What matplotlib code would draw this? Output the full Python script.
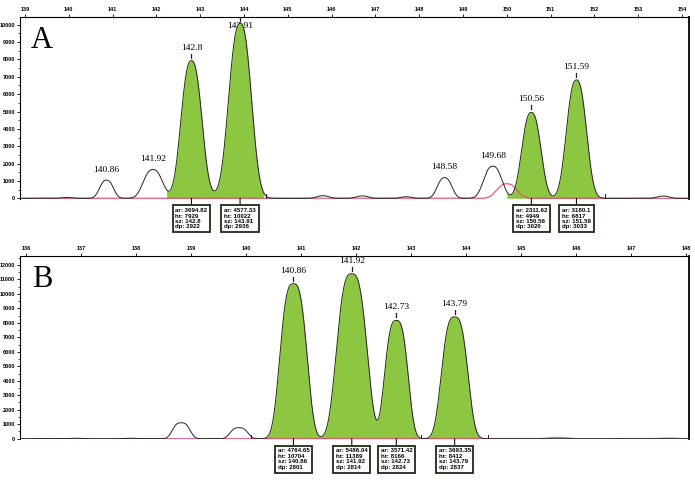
import numpy as np
import matplotlib
matplotlib.use('Agg')
from matplotlib import pyplot as plt
from matplotlib.ticker import AutoMinorLocator

# ---- panel A data (size in bp, height in RFU) ----
a_called_sz = [142.8, 143.91, 150.56, 151.59]
a_called_ht = [7929, 10022, 4949, 6817]
a_called_w = [0.23, 0.25, 0.21, 0.22]
a_called_ar = ['3694.82', '4577.33', '2311.62', '3180.1']
a_called_dp = [2922, 2936, 3020, 3033]
a_fill = [(142.23, 144.45), (150.0, 152.1)]

a_other_sz = [139.95, 140.86, 141.92, 143.4, 144.0, 145.8, 146.7, 147.7, 148.58, 149.68, 153.57]
a_other_ht = [50, 1050, 1660, 120, 80, 150, 140, 90, 1190, 1850, 130]
a_other_w = [0.12, 0.15, 0.21, 0.18, 0.12, 0.14, 0.14, 0.12, 0.16, 0.2, 0.14]
a_other_lab = [140.86, 141.92, 148.58, 149.68]

a_red_sz = [150.0]
a_red_ht = [840]
a_red_w = [0.22]
a_marks = [144.51, 152.24]

# ---- panel B data ----
b_called_sz = [140.86, 141.92, 142.73, 143.79]
b_called_ht = [10704, 11389, 8166, 8412]
b_called_w = [0.23, 0.26, 0.2, 0.225]
b_called_ar = ['4764.65', '5486.04', '3571.42', '3693.35']
b_called_dp = [2801, 2814, 2824, 2837]
b_fill = [(140.3, 143.12), (143.3, 144.25)]

b_other_sz = [136.9, 137.9, 138.82, 139.87]
b_other_ht = [30, 30, 1100, 760]
b_other_w = [0.12, 0.12, 0.15, 0.15]
b_other_lab = []

b_red_sz = [145.66, 147.65]
b_red_ht = [80, 40]
b_red_w = [0.18, 0.15]
b_marks = [140.08, 143.17, 144.4]


def peak_sum(x, centers, heights, widths, p):
    y = np.zeros_like(x)
    for c, h, w in zip(centers, heights, widths):
        y += h * np.exp(-0.5 * np.abs((x - c) / w) ** p)
    return y


def draw_panel(ax, letter, xlim, ylim, xticks, yticks, p,
               called_sz, called_ht, called_w, called_ar, called_dp, fills,
               other_sz, other_ht, other_w, other_lab,
               red_sz, red_ht, red_w, marks):
    ax.set_xlim(*xlim)
    ax.set_ylim(*ylim)
    x = np.linspace(xlim[0], xlim[1], 5000)
    y_black = peak_sum(x, called_sz + other_sz, called_ht + other_ht, called_w + other_w, p)
    y_red = peak_sum(x, red_sz, red_ht, red_w, p)

    for lo, hi in fills:
        m = (x >= lo) & (x <= hi)
        ax.fill_between(x[m], 0, y_black[m], color='#8dc641', lw=0, zorder=2)
    ax.plot(x, y_red, color='#e8446e', lw=1.0, alpha=0.8, zorder=3)
    ax.plot(x, y_black, color='#1f2a18', lw=0.7, zorder=4)

    # data units per pixel
    fig = ax.figure
    h_px = ax.get_position().height * fig.get_figheight() * fig.dpi
    dpp = (ylim[1] - ylim[0]) / h_px

    for m in marks:
        ax.plot([m, m], [0, 4 * dpp], color='#222', lw=0.7, zorder=4)

    for sz, ht, ar, dp in zip(called_sz, called_ht, called_ar, called_dp):
        ax.plot([sz, sz], [ht + 3 * dpp, ht + 7 * dpp], color='#222', lw=0.9, zorder=4)
        ly = ht + 13 * dpp
        if ly > ylim[1] - 4 * dpp:
            ly = ht - 1.5 * dpp
        ax.text(sz, ly, f'{sz}', ha='center', va='center', fontsize=6.8,
                family='Liberation Serif', zorder=1)
        txt = f'ar: {ar}\nht: {ht}\nsz: {sz}\ndp: {dp}'
        ax.annotate(txt, xy=(sz, 0), xytext=(0, -7), textcoords='offset points',
                    ha='center', va='top', multialignment='left', fontsize=4.4,
                    fontweight='bold', family='Liberation Sans', linespacing=1.12,
                    bbox=dict(boxstyle='square,pad=0.45', fc='white', ec='#1c2b14', lw=1.3),
                    arrowprops=dict(arrowstyle='-', color='#111', lw=0.8, shrinkA=0, shrinkB=0),
                    annotation_clip=False)

    for sz in other_lab:
        ht = other_ht[other_sz.index(sz)]
        ax.text(sz, ht + 10.5 * dpp, f'{sz}', ha='center', va='center', fontsize=6.8,
                family='Liberation Serif', zorder=1)

    ax.text(0.033, 0.87, letter, transform=ax.transAxes, fontsize=22,
            family='Liberation Serif', ha='center', va='center')

    ax.xaxis.tick_top()
    ax.set_xticks(xticks)
    ax.set_yticks(yticks)
    ax.yaxis.set_minor_locator(AutoMinorLocator(2))
    ax.tick_params(axis='x', labelsize=4, length=2, width=0.6, pad=1.5)
    ax.tick_params(axis='y', which='major', labelsize=4, length=2.5, width=0.6, pad=1)
    ax.tick_params(axis='y', which='minor', length=1.5, width=0.5)
    for lab in ax.get_xticklabels() + ax.get_yticklabels():
        lab.set_fontweight('bold')
        lab.set_family('Liberation Sans')
    ax.spines['bottom'].set_visible(False)
    ax.spines['top'].set_linewidth(0.8)
    ax.spines['left'].set_linewidth(0.8)
    ax.spines['right'].set_linewidth(1.3)


fig = plt.figure(figsize=(6.95, 4.84), dpi=100)
ax_a = fig.add_axes([0.0288, 0.5888, 0.9626, 0.376])
ax_b = fig.add_axes([0.0288, 0.0924, 0.9626, 0.3793])

draw_panel(ax_a, 'A', (138.886, 154.16), (-40, 10440), list(range(139, 155)),
           list(range(0, 10001, 1000)), 2.5,
           a_called_sz, a_called_ht, a_called_w, a_called_ar, a_called_dp, a_fill,
           a_other_sz, a_other_ht, a_other_w, a_other_lab,
           a_red_sz, a_red_ht, a_red_w, a_marks)
draw_panel(ax_b, 'B', (135.89, 148.05), (-40, 12636), list(range(136, 149)),
           list(range(0, 12001, 1000)), 3.0,
           b_called_sz, b_called_ht, b_called_w, b_called_ar, b_called_dp, b_fill,
           b_other_sz, b_other_ht, b_other_w, b_other_lab,
           b_red_sz, b_red_ht, b_red_w, b_marks)

fig.savefig('out.png', dpi=100)
